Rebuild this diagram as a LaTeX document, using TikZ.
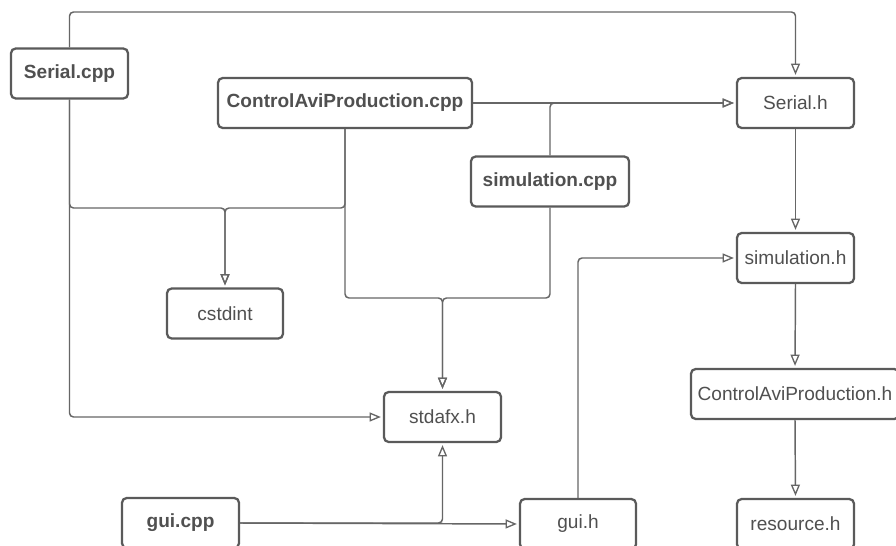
\documentclass[tikz,border=0pt]{standalone}
\usepackage{fontspec}
\setmainfont{Liberation Sans}
\usetikzlibrary{arrows.meta}
\definecolor{boxline}{HTML}{5A5A5A}
\definecolor{wire}{HTML}{666666}
\definecolor{label}{HTML}{505050}
\begin{document}
\begin{tikzpicture}[x=0.75pt,y=-0.75pt,
  filebox/.style={draw=boxline,line width=1.7pt,rounded corners=3.5pt,fill=white,
    inner sep=0pt,text=label,font=\fontsize{14.3}{16}\selectfont,
    minimum height=37.5pt},
  srcfile/.style={filebox,font=\fontsize{14.3}{16}\selectfont\bfseries},
  wire/.style={draw=wire,line width=1.1pt,rounded corners=3pt,shorten >=1.5pt,
    -{Triangle[open,length=8.5pt,width=6.8pt,line width=1pt]}}]
\useasboundingbox (0,0) rectangle (896,546);
\clip (0,0) rectangle (896,546);
\fill[white] (0,0) rectangle (896,546);

% files
\node[srcfile,minimum width=87.75pt] (serialcpp) at (69.5,73.5) {Serial.cpp};
\node[srcfile,minimum width=190.5pt] (cavicpp) at (345,103) {ControlAviProduction.cpp};
\node[srcfile,minimum width=118.5pt] (simcpp) at (550,181.5) {simulation.cpp};
\node[filebox,minimum width=87.75pt] (serialh) at (795.5,103) {Serial.h};
\node[filebox,minimum width=87.75pt] (simh) at (795.5,258) {simulation.h};
\node[filebox,minimum width=156pt] (cavih) at (795,394) {ControlAviProduction.h};
\node[filebox,minimum width=87.75pt] (resh) at (795.5,524) {resource.h};
\node[filebox,minimum width=87pt] (guih) at (578,524) {gui.h};
\node[srcfile,minimum width=87.75pt] (guicpp) at (180.5,523) {gui.cpp};
\node[filebox,minimum width=87pt] (cstdint) at (225,313.5) {cstdint};
\node[filebox,minimum width=87.75pt] (stdafx) at (442.5,417) {stdafx.h};

% routing levels
\coordinate (toprail) at (0,12);
\coordinate (busA) at (0,208);
\coordinate (busB) at (0,298);

% dependencies
\path[wire] (serialcpp.north) -- (serialcpp.north |- toprail) -| (serialh.north);
\path[wire] (serialcpp.south) |- (stdafx.west);
\path[wire] (serialcpp.south) -- (serialcpp.south |- busA) -- (cstdint.north |- busA) -- (cstdint.north);
\path[wire] (cavicpp.south) -- (cavicpp.south |- busA) -- (cstdint.north |- busA) -- (cstdint.north);
\path[wire] (cavicpp.south) -- (cavicpp.south |- busB) -- (stdafx.north |- busB) -- (stdafx.north);
\path[wire] (simcpp.south) -- (simcpp.south |- busB) -- (stdafx.north |- busB) -- (stdafx.north);
\path[wire] (cavicpp.east) -- (serialh.west);
\path[wire] (simcpp.north) |- (serialh.west);
\path[wire] (serialh.south) -- (simh.north);
\path[wire] (simh.south) -- (cavih.north);
\path[wire] (cavih.south) -- (resh.north);
\path[wire] (guih.north) |- (simh.west);
\path[wire] (guicpp.east) -- (guih.west);
\path[wire] (guicpp.east) -| (stdafx.south);
\end{tikzpicture}
\end{document}
